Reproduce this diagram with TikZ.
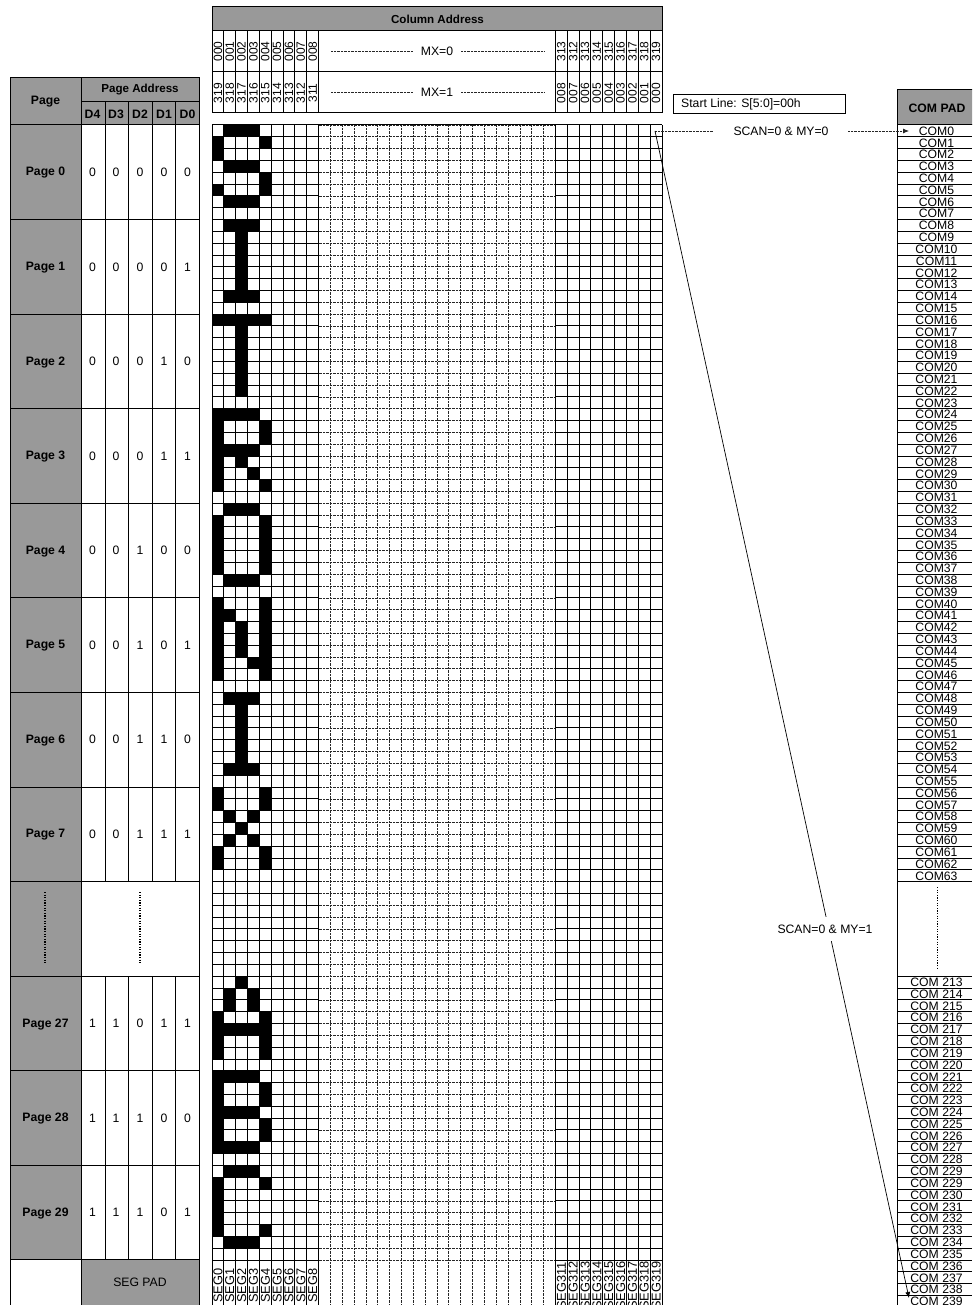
\documentclass[tikz,border=0pt]{standalone}
\usepackage{fontspec}
\setmainfont{Liberation Sans}
\usetikzlibrary{arrows.meta}
\tikzset{
  rule/.style={line width=1pt,black},
  fine/.style={line width=.8pt,black!85,dash pattern=on .9pt off .5pt},
  dots/.style={line width=1.1pt,black,dash pattern=on 1.2pt off 1.4pt},
  grayfill/.style={fill=headgray,draw=black,line width=1pt},
  txt/.style={font=\fontsize{12.2}{12.2}\selectfont,inner sep=0pt,text=black},
  bold/.style={font=\fontsize{12.2}{12.2}\selectfont\bfseries,inner sep=0pt,text=black},
  boldhead/.style={font=\fontsize{11.6}{11.6}\selectfont\bfseries,inner sep=0pt,text=black},
  vtxt/.style={font=\fontsize{12}{12}\selectfont,inner sep=0pt,rotate=90,text=black},
  segtxt/.style={font=\fontsize{12.8}{12.8}\selectfont,inner sep=0pt,rotate=90,anchor=base west,text=black},
  comtxt/.style={font=\fontsize{12.2}{12.2}\selectfont,inner sep=0pt,anchor=base,text=black},
  link/.style={line width=.7pt,black},
  tip/.style={-{Latex[length=6pt,width=5pt]}}
}
\definecolor{headgray}{HTML}{999999}
\newcommand{\gx}[1]{212+11.842*#1}
\begin{document}
\begin{tikzpicture}[x=1pt,y=-1pt]
\useasboundingbox (0,0) rectangle (972,1305);
\clip (0,0) rectangle (972,1305);
% ---- column address table
\draw[grayfill] (212,7) rectangle (662,31);
\draw[rule] (212,31) rectangle (662,113);
\draw[rule] (212,72) -- (662,72);
\node[boldhead] (coladdr) at (437.5,19) {Column Address};
\foreach \c in {1,...,9,29,30,...,37} {
  \pgfmathsetmacro\xx{\gx{\c}}
  \draw[rule] (\xx,31) -- (\xx,113);
}
\foreach \c/\a/\b in {0/000/319,1/001/318,2/002/317,3/003/316,4/004/315,5/005/314,6/006/313,7/007/312,8/008/311,
                      29/313/008,30/312/007,31/313/006,32/314/005,33/315/004,34/316/003,35/317/002,36/318/001,37/319/000} {
  \pgfmathsetmacro\xx{\gx{\c}+5.9}
  \node[vtxt] (top\c) at (\xx,51.5) {\a};
  \node[vtxt] (bot\c) at (\xx,93) {\b};
}
\node[txt] (mxa) at (437,51.5) {MX=0};
\node[txt] (mxb) at (437,92.5) {MX=1};
\coordinate (mxal) at (331,51);
\coordinate (mxar) at (544,51);
\coordinate (mxbl) at (331,92.5);
\coordinate (mxbr) at (544,92.5);
\draw[fine] (mxal) -- (413,51);
\draw[fine] (461,51) -- (mxar);
\draw[fine] (mxbl) -- (413,92.5);
\draw[fine] (461,92.5) -- (mxbr);
% ---- page table
\draw[grayfill] (10,78) rectangle (199,125);
\draw[rule] (81,78) -- (81,125);
\draw[rule] (81,102) -- (199,102);
\node[bold] (pagehd) at (45.5,102) {Page};
\node[boldhead] (pagead) at (140,90) {Page Address};
\foreach \x/\d in {92.5/4,116/3,140/2,164/1,187.5/0} {
  \node[bold] (dh\d) at (\x,114) {D\d};
}
\foreach \x in {105,128,152,175.5} {
  \draw[rule] (\x,102) -- (\x,125);
}
\draw[rule,fill=headgray] (10,125) rectangle (81,1259.6);
\draw[rule] (81,125) rectangle (199,1259.6);
\foreach \i/\name/\a/\b/\c/\d/\e in {0/0/0/0/0/0/0,1/1/0/0/0/0/1,2/2/0/0/0/1/0,3/3/0/0/0/1/1,4/4/0/0/1/0/0,5/5/0/0/1/0/1,6/6/0/0/1/1/0,7/7/0/0/1/1/1,9/27/1/1/0/1/1,10/28/1/1/1/0/0,11/29/1/1/1/0/1} {
  \pgfmathsetmacro\ya{125+94.58*\i}
  \pgfmathsetmacro\yb{\ya+94.58}
  \pgfmathsetmacro\ym{\ya+47.29}
  \pgfmathsetmacro\ymb{\ya+47.9}
  \draw[rule] (10,\ya) -- (199,\ya);
  \draw[rule] (10,\yb) -- (199,\yb);
  \foreach \x in {105,128,152,175.5} { \draw[rule] (\x,\ya) -- (\x,\yb); }
  \node[bold] (pg\i) at (45.5,\ymb) {Page \name};
  \node[txt] (pa\i) at (92.5,\ym) {\a};
  \node[txt] (pb\i) at (116,\ym) {\b};
  \node[txt] (pc\i) at (140,\ym) {\c};
  \node[txt] (pd\i) at (164,\ym) {\d};
  \node[txt] (pe\i) at (187.5,\ym) {\e};
}
\draw[dots] (45,892) -- (45,963);
\draw[dots] (140,892) -- (140,963);
\draw[rule,fill=white] (10,1259.6) rectangle (81,1310);
\draw[grayfill] (81,1259.6) rectangle (199,1310);
\node[txt] (segpad) at (140,1282.5) {SEG PAD};
% ---- display grid: horizontals
\foreach \r in {0,...,96} {
  \pgfmathsetmacro\yy{125+11.823*\r}
  \draw[rule] (212,\yy) -- (\gx{9},\yy);
  \draw[fine] (\gx{9},\yy) -- (\gx{29},\yy);
  \draw[rule] (\gx{29},\yy) -- (662,\yy);
}
% verticals
\foreach \c in {0,...,9,29,30,...,38} {
  \pgfmathsetmacro\xx{\gx{\c}}
  \draw[rule] (\xx,125) -- (\xx,1305);
}
\foreach \c in {10,...,28} {
  \pgfmathsetmacro\xx{\gx{\c}}
  \draw[fine] (\xx,125) -- (\xx,1305);
}
% lit pixels: row from / row to / col from / col to
\foreach \ra/\rb/\ca/\cb in {
  0/0/1/3,1/2/0/0,1/1/4/4,3/3/1/3,4/5/4/4,5/5/0/0,6/6/1/3,
  8/8/1/3,9/13/2/2,14/14/1/3,
  16/16/0/4,17/22/2/2,
  24/30/0/0,24/24/1/3,25/26/4/4,27/27/1/3,28/28/2/2,29/29/3/3,30/30/4/4,
  32/32/1/3,33/37/0/0,33/37/4/4,38/38/1/3,
  40/46/0/0,40/46/4/4,41/41/1/1,42/44/2/2,45/45/3/3,
  48/48/1/3,49/53/2/2,54/54/1/3,
  56/57/0/0,56/57/4/4,58/58/1/1,58/58/3/3,59/59/2/2,60/60/1/1,60/60/3/3,61/62/0/0,61/62/4/4,
  72/72/2/2,73/74/1/1,73/74/3/3,75/78/0/0,75/78/4/4,76/76/1/3,
  80/86/0/0,80/80/1/3,81/82/4/4,83/83/1/3,84/85/4/4,86/86/1/3,
  88/88/1/3,89/93/0/0,89/89/4/4,93/93/4/4,94/94/1/3} {
  \pgfmathsetmacro\xa{\gx{\ca}}
  \pgfmathsetmacro\xb{212+11.842*(\cb+1)}
  \pgfmathsetmacro\ya{125+11.823*\ra}
  \pgfmathsetmacro\yb{125+11.823*(\rb+1)}
  \fill[black] (\xa,\ya) rectangle (\xb,\yb);
}
% outer frame of the grid
\draw[rule] (212,125) -- (662,125);
% SEG labels
\foreach \c/\t in {0/SEG0,1/SEG1,2/SEG2,3/SEG3,4/SEG4,5/SEG5,6/SEG6,7/SEG7,8/SEG8} {
  \pgfmathsetmacro\xx{\gx{\c}+10.4}
  \node[segtxt] (seg\c) at (\xx,1303) {\t};
}
\foreach \c/\t in {29/SEG311,30/SEG312,31/SEG313,32/SEG314,33/SEG315,34/SEG316,35/SEG317,36/SEG318,37/SEG319} {
  \pgfmathsetmacro\xx{\gx{\c}+10.4}
  \node[segtxt] (seg\c) at (\xx,1310) {\t};
}
% ---- start line box
\draw[rule] (673,95) rectangle (845,113.5);
\node[txt,anchor=west] (startline) at (681,104) {Start Line: S[5:0]=00h};
% ---- COM pad
\draw[grayfill] (897,90) rectangle (975,125);
\node[bold] (compad) at (937,108) {COM PAD};
\draw[rule] (897,125) -- (897,1305);
\foreach \r in {0,...,64,72,73,...,100} {
  \pgfmathsetmacro\yy{125+11.823*\r}
  \draw[rule] (897,\yy) -- (972,\yy);
}
\foreach \r in {0,...,63} {
  \pgfmathsetmacro\yy{125+11.823*\r+5.9+4.3}
  \node[comtxt] (com\r) at (936.5,\yy) {COM\r};
}
\foreach \r in {72,73,...,99} {
  \pgfmathtruncatemacro\n{\r<=88 ? 141+\r : 140+\r}
  \pgfmathsetmacro\yy{125+11.823*\r+5.9+4.3}
  \node[comtxt] (comb\r) at (936.5,\yy) {COM \n};
}
\draw[dots] (937.5,887) -- (937.5,970);
% ---- scan connectors
\coordinate (scanstart) at (655,131);
\coordinate (tiptop) at (909,131);
\coordinate (tipbot) at (909,1298);
\node[txt] (scana) at (781,131) {SCAN=0 \& MY=0};
\draw[fine] (scanstart) -- (713,131);
\draw[fine,tip] (848,131) -- (tiptop);
\draw[link,tip] (scanstart) -- (tipbot);
\node[txt,fill=white,minimum height=24pt,text depth=0pt] (scanb) at (825,929) {SCAN=0 \& MY=1};
\end{tikzpicture}
\end{document}
